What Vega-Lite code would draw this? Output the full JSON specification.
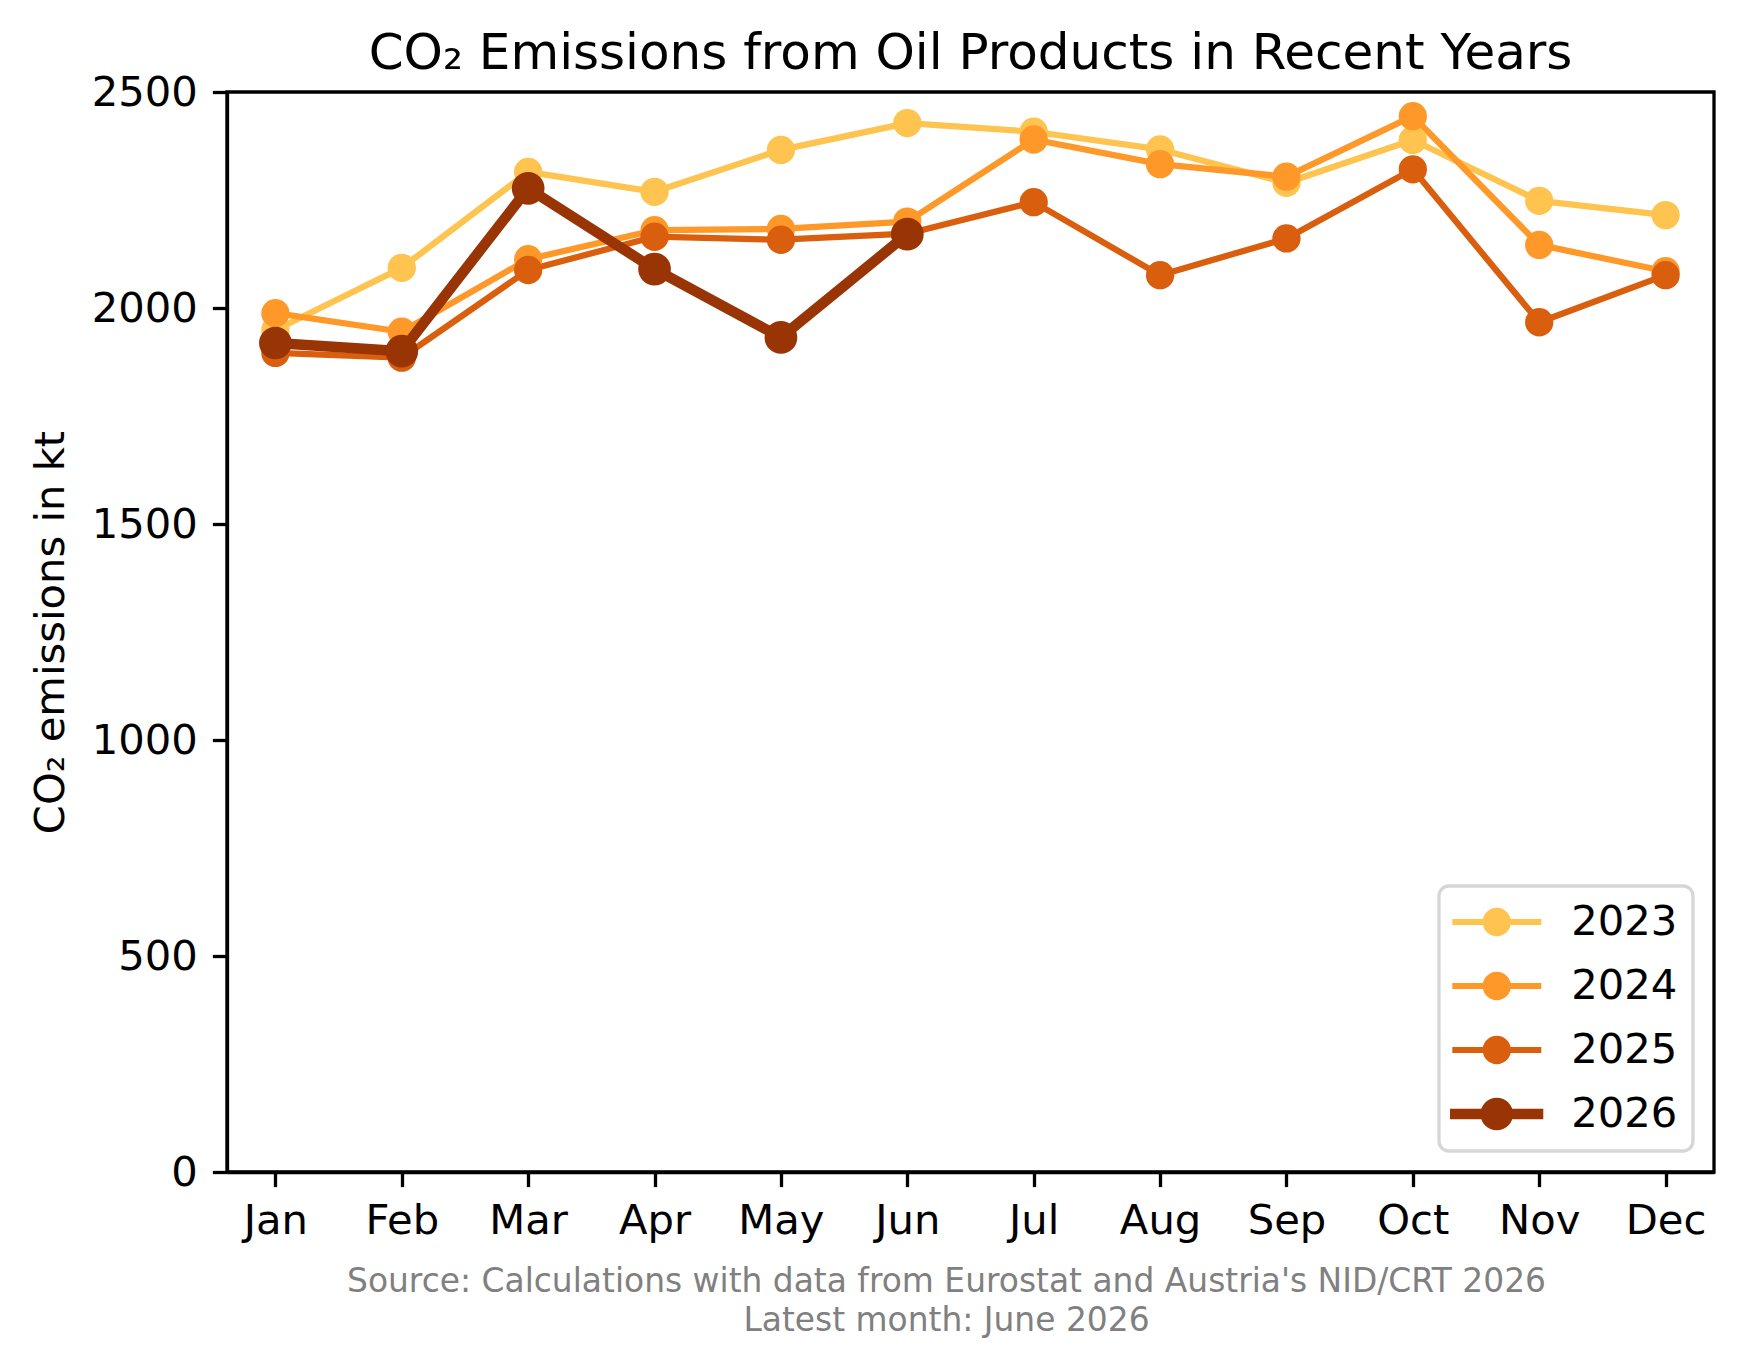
{
  "$schema": "https://vega.github.io/schema/vega-lite/v6.json",
  "width": 1487,
  "height": 1080,
  "autosize": {"type": "none"},
  "padding": {"left": 227, "top": 92, "right": 29, "bottom": 200},
  "background": "white",
  "title": {
    "text": "CO₂ Emissions from Oil Products in Recent Years",
    "font": "DejaVu Sans",
    "fontSize": 50,
    "fontWeight": "normal",
    "color": "black",
    "anchor": "middle",
    "frame": "group",
    "baseline": "alphabetic",
    "offset": -47
  },
  "data": {
    "values": [
      {"year": "2023", "month": "Jan", "kt": 1949},
      {"year": "2023", "month": "Feb", "kt": 2093},
      {"year": "2023", "month": "Mar", "kt": 2315},
      {"year": "2023", "month": "Apr", "kt": 2269},
      {"year": "2023", "month": "May", "kt": 2366},
      {"year": "2023", "month": "Jun", "kt": 2428},
      {"year": "2023", "month": "Jul", "kt": 2408},
      {"year": "2023", "month": "Aug", "kt": 2367},
      {"year": "2023", "month": "Sep", "kt": 2290},
      {"year": "2023", "month": "Oct", "kt": 2389},
      {"year": "2023", "month": "Nov", "kt": 2248},
      {"year": "2023", "month": "Dec", "kt": 2215},
      {"year": "2024", "month": "Jan", "kt": 1988},
      {"year": "2024", "month": "Feb", "kt": 1945},
      {"year": "2024", "month": "Mar", "kt": 2113},
      {"year": "2024", "month": "Apr", "kt": 2180},
      {"year": "2024", "month": "May", "kt": 2183},
      {"year": "2024", "month": "Jun", "kt": 2200},
      {"year": "2024", "month": "Jul", "kt": 2390},
      {"year": "2024", "month": "Aug", "kt": 2333},
      {"year": "2024", "month": "Sep", "kt": 2304},
      {"year": "2024", "month": "Oct", "kt": 2444},
      {"year": "2024", "month": "Nov", "kt": 2146},
      {"year": "2024", "month": "Dec", "kt": 2085},
      {"year": "2025", "month": "Jan", "kt": 1896},
      {"year": "2025", "month": "Feb", "kt": 1885},
      {"year": "2025", "month": "Mar", "kt": 2088},
      {"year": "2025", "month": "Apr", "kt": 2165},
      {"year": "2025", "month": "May", "kt": 2158},
      {"year": "2025", "month": "Jun", "kt": 2172},
      {"year": "2025", "month": "Jul", "kt": 2245},
      {"year": "2025", "month": "Aug", "kt": 2076},
      {"year": "2025", "month": "Sep", "kt": 2161},
      {"year": "2025", "month": "Oct", "kt": 2321},
      {"year": "2025", "month": "Nov", "kt": 1967},
      {"year": "2025", "month": "Dec", "kt": 2076},
      {"year": "2026", "month": "Jan", "kt": 1919},
      {"year": "2026", "month": "Feb", "kt": 1900},
      {"year": "2026", "month": "Mar", "kt": 2277},
      {"year": "2026", "month": "Apr", "kt": 2090},
      {"year": "2026", "month": "May", "kt": 1932},
      {"year": "2026", "month": "Jun", "kt": 2171}
    ]
  },
  "encoding": {
    "x": {
      "field": "month",
      "type": "ordinal",
      "sort": ["Jan", "Feb", "Mar", "Apr", "May", "Jun", "Jul", "Aug", "Sep", "Oct", "Nov", "Dec"],
      "scale": {"type": "point", "padding": 0.383},
      "axis": {
        "labelAngle": 0,
        "labelPadding": 13.5,
        "title": ["Source: Calculations with data from Eurostat and Austria's NID/CRT 2026", "Latest month: June 2026"],
        "titleFontSize": 32.9,
        "titleColor": "#808080",
        "titleFontWeight": "normal",
        "titleLineHeight": 39,
        "titleBaseline": "alphabetic",
        "titleAnchor": "start",
        "titleAlign": "center",
        "titleX": 719,
        "titleY": 119
      }
    },
    "y": {
      "field": "kt",
      "type": "quantitative",
      "scale": {"domain": [0, 2500], "nice": false},
      "axis": {
        "values": [0, 500, 1000, 1500, 2000, 2500],
        "format": "d",
        "labelPadding": 15,
        "title": "CO₂ emissions in kt",
        "titleFontSize": 41.7,
        "titleFontWeight": "normal",
        "titleColor": "black",
        "titleAngle": 270,
        "titleBaseline": "alphabetic",
        "titleX": -163.7,
        "titleY": 540
      }
    },
    "color": {
      "field": "year",
      "type": "nominal",
      "scale": {
        "domain": ["2023", "2024", "2025", "2026"],
        "range": ["#fec44f", "#fe9929", "#d95f0e", "#993404"]
      },
      "legend": {
        "title": null,
        "orient": "bottom-right",
        "offset": 21,
        "padding": 15,
        "rowPadding": 21,
        "fillColor": "white",
        "strokeColor": "#d6d6d6",
        "cornerRadius": 10,
        "labelFont": "DejaVu Sans",
        "labelFontSize": 41.7,
        "labelColor": "black",
        "labelOffset": 75.3,
        "symbolSize": 1764,
        "symbolStrokeWidth": 0,
        "encode": {
          "symbols": {
            "update": {
              "shape": {"signal": "datum.value == '2026' ? 'M-1.19,-0.254H3.252V0.254H-1.19Z M1.816,0A0.778,0.778 0 1,1 0.26,0A0.778,0.778 0 1,1 1.816,0Z' : 'M-1.08,-0.143H3.157V0.143H-1.08Z M1.713,0A0.675,0.675 0 1,1 0.363,0A0.675,0.675 0 1,1 1.713,0Z'"},
              "fill": {"scale": "color", "field": "value"},
              "stroke": {"value": "transparent"},
              "strokeWidth": {"value": 0},
              "opacity": {"value": 1},
              "size": {"value": 1764}
            }
          },
          "legend": {
            "update": {"strokeWidth": {"value": 3.3}}
          }
        }
      }
    }
  },
  "layer": [
    {
      "transform": [{"filter": "datum.year != '2026'"}],
      "mark": {"type": "line", "strokeWidth": 6.25, "strokeJoin": "round"}
    },
    {
      "transform": [{"filter": "datum.year != '2026'"}],
      "mark": {"type": "point", "filled": true, "opacity": 1, "shape": "circle", "size": 801}
    },
    {
      "transform": [{"filter": "datum.year == '2026'"}],
      "mark": {"type": "line", "strokeWidth": 10.5, "strokeJoin": "round"}
    },
    {
      "transform": [{"filter": "datum.year == '2026'"}],
      "mark": {"type": "point", "filled": true, "opacity": 1, "shape": "circle", "size": 1069}
    }
  ],
  "config": {
    "font": "DejaVu Sans",
    "view": {"stroke": "black", "strokeWidth": 3.3},
    "axis": {
      "grid": false,
      "domainColor": "black",
      "domainWidth": 3.3,
      "tickColor": "black",
      "tickWidth": 3.3,
      "tickSize": 14.6,
      "labelFont": "DejaVu Sans",
      "labelFontSize": 41.7,
      "labelColor": "black",
      "titleFont": "DejaVu Sans"
    }
  }
}
